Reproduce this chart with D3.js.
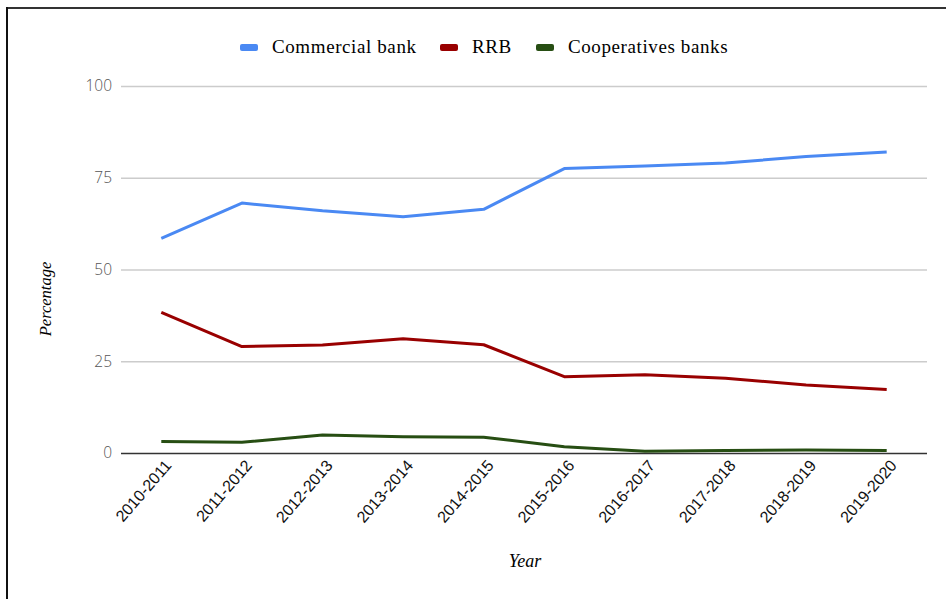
<!DOCTYPE html>
<html>
<head>
<meta charset="utf-8">
<script src="https://cdn.jsdelivr.net/npm/d3@7"></script>
<style>
  html, body { margin: 0; padding: 0; background: #fff; }
  svg { display: block; }
</style>
</head>
<body>
<svg id="chart" width="946" height="599"></svg>
<script>
// Share of bank types by financial year (percentage)
const years = ["2010-2011", "2011-2012", "2012-2013", "2013-2014", "2014-2015",
               "2015-2016", "2016-2017", "2017-2018", "2018-2019", "2019-2020"];
const commercialBank = [58.5, 68.1, 66.0, 64.4, 66.4, 77.5, 78.2, 79.0, 80.8, 82.0];
const rrb            = [38.3, 29.0, 29.4, 31.1, 29.5, 20.8, 21.3, 20.4, 18.5, 17.3];
const cooperatives   = [3.1, 2.9, 4.9, 4.4, 4.3, 1.7, 0.5, 0.7, 0.8, 0.7];
const yTicks = [0, 25, 50, 75, 100];

const seriesNames  = ["Commercial bank", "RRB", "Cooperatives banks"];
const seriesValues = [commercialBank, rrb, cooperatives];
const seriesColors = ["#4a89f3", "#990000", "#274e13"];

const svg = d3.select("#chart");
const plot = { left: 121, right: 927, top: 86, bottom: 453 };

const x = d3.scaleBand().domain(years).range([plot.left, plot.right]);
const y = d3.scaleLinear().domain([0, 100]).range([plot.bottom, plot.top]);

// outer frame
svg.append("line").attr("x1", 7).attr("x2", 946).attr("y1", 8).attr("y2", 8)
  .attr("stroke", "#333").attr("stroke-width", 2);
svg.append("line").attr("x1", 7).attr("x2", 7).attr("y1", 7).attr("y2", 599)
  .attr("stroke", "#111").attr("stroke-width", 2);

// horizontal gridlines and y tick labels
const yAxis = d3.axisLeft(y).tickValues(yTicks).tickSize(-(plot.right - plot.left)).tickPadding(9);
const gy = svg.append("g").attr("transform", `translate(${plot.left},0)`).call(yAxis);
gy.select(".domain").remove();
gy.selectAll(".tick line")
  .attr("stroke", d => d === 0 ? "#333" : "#cccccc")
  .attr("stroke-width", d => d === 0 ? 1.6 : 1.4);
gy.selectAll(".tick text")
  .attr("fill", "#555")
  .style("font-family", "'Open Sans', 'Liberation Sans', sans-serif")
  .style("font-weight", 300)
  .style("font-size", "15.5px");

// rotated category labels
const xAxis = d3.axisBottom(x).tickSize(0).tickPadding(0);
const gx = svg.append("g").attr("transform", `translate(0,${plot.bottom})`).call(xAxis);
gx.select(".domain").remove();
gx.selectAll(".tick text")
  .attr("fill", "#111")
  .style("font-family", "'Liberation Sans', Arial, sans-serif")
  .style("font-size", "16px")
  .attr("text-anchor", "end")
  .attr("dy", null)
  .attr("y", 0)
  .attr("transform", "translate(11,13) rotate(-49)");

// series lines
const line = d3.line()
  .x((d, i) => x(years[i]) + x.bandwidth() / 2)
  .y(d => y(d));

svg.append("g").selectAll("path")
  .data(seriesValues)
  .join("path")
  .attr("d", line)
  .attr("fill", "none")
  .attr("stroke", (d, i) => seriesColors[i])
  .attr("stroke-width", 3)
  .attr("stroke-linejoin", "round");

// legend
const serifFont = "'Liberation Serif', 'DejaVu Serif', serif";
const legendX = [240, 440, 536];
const legend = svg.append("g");
seriesNames.forEach((name, i) => {
  const g = legend.append("g").attr("transform", `translate(${legendX[i]},47)`);
  g.append("rect").attr("x", 0).attr("y", -3).attr("width", 18).attr("height", 7)
    .attr("rx", 2).attr("fill", seriesColors[i]);
  g.append("text").attr("x", 32).attr("y", 6)
    .style("font-family", serifFont).style("font-size", "19px")
    .style("letter-spacing", "0.6px").attr("fill", "#000")
    .text(name);
});

// axis titles
svg.append("text")
  .attr("transform", "translate(51,299) rotate(-90)")
  .attr("text-anchor", "middle")
  .style("font-family", serifFont).style("font-style", "italic").style("font-size", "16.5px")
  .attr("fill", "#000")
  .text("Percentage");

svg.append("text")
  .attr("x", 525).attr("y", 567)
  .attr("text-anchor", "middle")
  .style("font-family", serifFont).style("font-style", "italic").style("font-size", "18px")
  .attr("fill", "#000")
  .text("Year");
</script>
</body>
</html>
